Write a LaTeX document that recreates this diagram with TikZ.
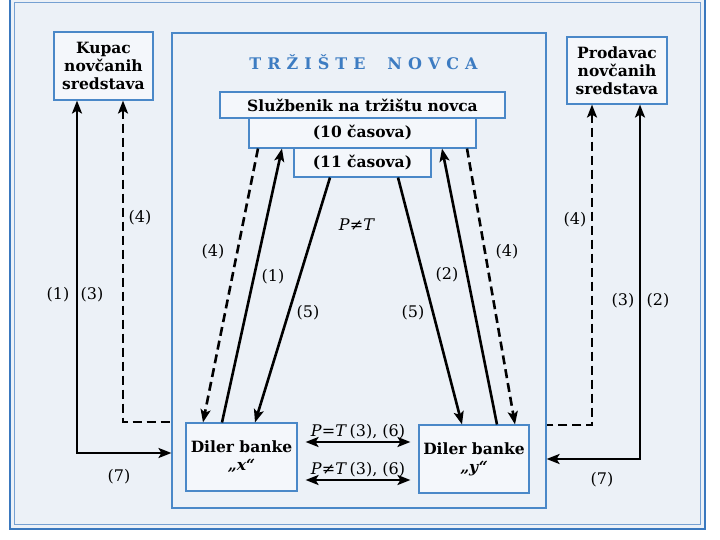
\documentclass[tikz,border=0pt]{standalone}
\usepackage{fontspec}
\setmainfont{DejaVu Serif}
\usetikzlibrary{arrows.meta,positioning}
\definecolor{frameblue}{HTML}{3A78BE}
\definecolor{boxblue}{HTML}{4A88C8}
\definecolor{paper}{HTML}{ECF1F7}
\definecolor{boxfill}{HTML}{F4F7FB}
\definecolor{titleblue}{HTML}{3D7CC2}
\tikzset{>={Stealth[length=13pt,width=10pt,inset=3pt]},
  flow/.style={line width=2.6pt,->},
  dflow/.style={line width=2.6pt,->,dash pattern=on 9pt off 5pt},
  box/.style={draw=boxblue,line width=1.1pt,fill=boxfill,inner sep=0pt,align=center,font=\fontsize{15.5}{18}\selectfont\bfseries},
  lbl/.style={font=\fontsize{16}{18}\selectfont,inner sep=1pt}}

\begin{document}
\begin{tikzpicture}[x=1pt,y=-1pt]
\useasboundingbox (0,0) rectangle (720,540);
\fill[white] (0,0) rectangle (720,540);
\fill[paper] (10,-2) rectangle (705,529);
\draw[frameblue,line width=2.6pt] (10,-2) rectangle (705,529);
\draw[frameblue!70,line width=1.2pt] (14.5,2.5) rectangle (700.5,524.5);
% boxes
\node[box,minimum width=99pt,minimum height=68pt] (kupac) at (103.5,66) {Kupac\\novčanih\\sredstava};
\node[box,minimum width=100pt,minimum height=67pt] (prodavac) at (617,70.5) {Prodavac\\novčanih\\sredstava};
\node[draw=boxblue,line width=1.1pt,minimum width=374pt,minimum height=475pt,inner sep=0pt] (trziste) at (359,270.5) {};
\node[font=\fontsize{16}{18}\selectfont\bfseries,text=titleblue] (naslov) at (363.5,62) {T\kern6pt R\kern6pt Ž\kern6pt I\kern6pt Š\kern6pt T\kern6pt E\kern22pt N\kern6pt O\kern6pt V\kern6pt C\kern6pt A};
\node[box,minimum width=285pt,minimum height=26pt] (sluzbenik) at (362.5,105) {Službenik na tržištu novca};
\node[box,minimum width=227pt,minimum height=30pt] (deset) at (362.5,133) {(10 časova)};
\node[box,minimum width=137pt,minimum height=29pt] (jedanaest) at (362.5,162.5) {(11 časova)};
\node[box,minimum width=111pt,minimum height=68pt] (dilerx) at (241.5,457) {Diler banke\\\textit{„x“}};
\node[box,minimum width=110pt,minimum height=68pt] (dilery) at (474,459) {Diler banke\\\textit{„y“}};
% outer connectors
\coordinate (ka) at (77,453);\coordinate (kb) at (123,422);
\coordinate (pa) at (592,425);\coordinate (pb) at (640,459);
\draw[flow,<->] (kupac.south -| ka) |- (trziste.west |- ka);
\draw[dflow,<-] (kupac.south -| kb) |- (trziste.west |- kb);
\draw[dflow,<-] (prodavac.south -| pa) |- (trziste.east |- pa);
\draw[flow,<->] (prodavac.south -| pb) |- (trziste.east |- pb);
% inner connectors
\draw[dflow] ([xshift=-104.5pt]deset.south) -- ([xshift=-38.5pt]dilerx.north);
\draw[flow] ([xshift=-19.5pt]dilerx.north) -- ([xshift=-80.5pt]deset.south);
\draw[flow] ([xshift=-32.5pt]jedanaest.south) -- ([xshift=13.5pt]dilerx.north);
\draw[flow] ([xshift=35.5pt]jedanaest.south) -- ([xshift=-12pt]dilery.north);
\draw[flow] ([xshift=23pt]dilery.north) -- ([xshift=79.5pt]deset.south);
\draw[dflow] ([xshift=104.5pt]deset.south) -- ([xshift=41pt]dilery.north);
\draw[flow,<->,shorten <=8pt,shorten >=8pt] ([yshift=15pt]dilerx.east) -- ([yshift=15pt]dilerx.east -| dilery.west) node[lbl,midway,above=1pt] (pjt) {\textit{P}=\textit{T}\,(3), (6)};
\draw[flow,<->,shorten <=8pt,shorten >=8pt] ([yshift=-23pt]dilerx.east) -- ([yshift=-23pt]dilerx.east -| dilery.west) node[lbl,midway,above=1pt] (pnt) {\textit{P}≠\textit{T}\,(3), (6)};
% labels
\node[lbl] (k1) at (58,295) {(1)};\node[lbl] (k3) at (92,295) {(3)};
\node[lbl] (k4) at (140,218) {(4)};\node[lbl] (k7) at (119,477) {(7)};
\node[lbl] (p4) at (575,220) {(4)};\node[lbl] (p3) at (623,301) {(3)};
\node[lbl] (p2) at (658,301) {(2)};\node[lbl] (p7) at (602,480) {(7)};
\node[lbl] (x4) at (213,252) {(4)};\node[lbl] (x1) at (273,277) {(1)};
\node[lbl] (x5) at (308,313) {(5)};\node[lbl] (pt) at (357,225) {\textit{P}≠\textit{T}};
\node[lbl] (y5) at (413,313) {(5)};\node[lbl] (y2) at (447,275) {(2)};
\node[lbl] (y4) at (507,252) {(4)};
\end{tikzpicture}
\end{document}
